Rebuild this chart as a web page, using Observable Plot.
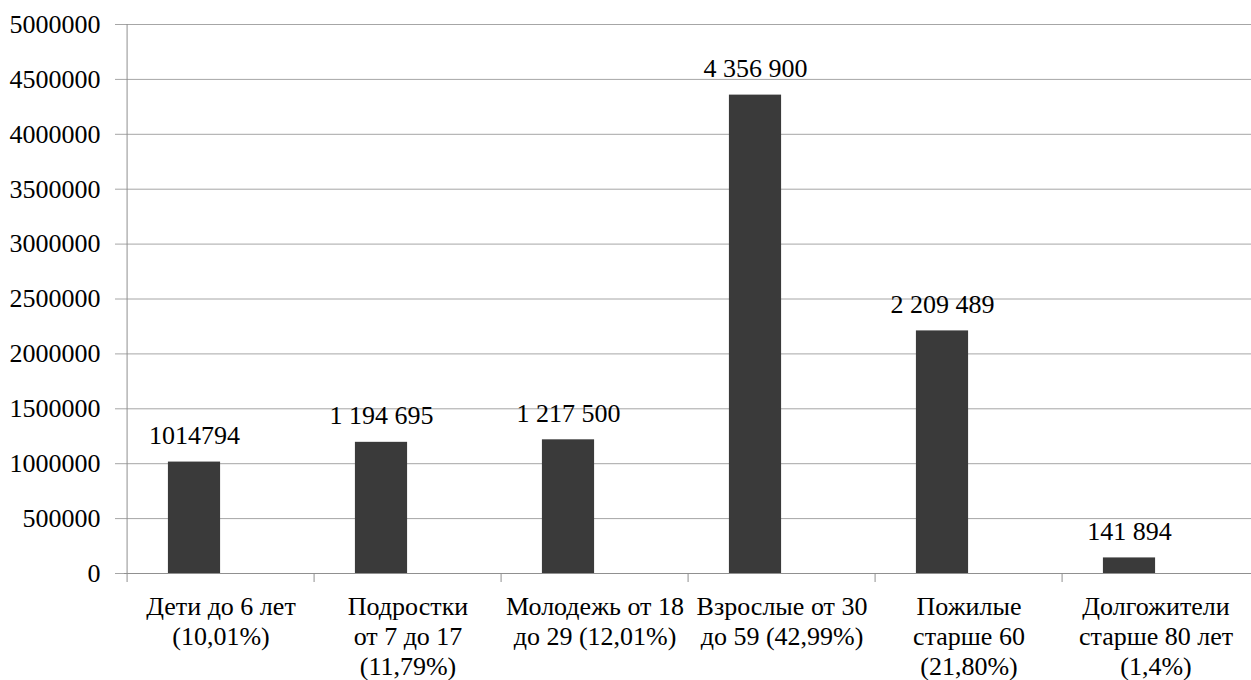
<!DOCTYPE html>
<html>
<head>
<meta charset="utf-8">
<script src="https://cdn.jsdelivr.net/npm/d3@7"></script>
<script src="https://cdn.jsdelivr.net/npm/@observablehq/plot@0.6"></script>
<style>
  html, body { margin: 0; padding: 0; background: #fff; }
  #chart svg { display: block; }
</style>
</head>
<body>
<div id="chart"></div>
<script>
const categories = [
  "Дети до 6 лет\n(10,01%)",
  "Подростки\nот 7 до 17\n(11,79%)",
  "Молодежь от 18\nдо 29 (12,01%)",
  "Взрослые от 30\nдо 59 (42,99%)",
  "Пожилые\nстарше 60\n(21,80%)",
  "Долгожители\nстарше 80 лет\n(1,4%)"
];
const values = [1014794, 1194695, 1217500, 4356900, 2209489, 141894];
const valueLabels = ["1014794", "1 194 695", "1 217 500", "4 356 900", "2 209 489", "141 894"];
const yTicks = [0, 500000, 1000000, 1500000, 2000000, 2500000, 3000000, 3500000, 4000000, 4500000, 5000000];

const data = categories.map((c, i) => ({category: c, value: values[i], label: valueLabels[i]}));

const W = 1251, H = 680, mL = 124, mR = 0, mT = 24, mB = 107;
const bw = (W - mL - mR) / categories.length;
const frameH = H - mT - mB;
const barW = 53;
const gridColor = "#a6a6a6";
const axisColor = "#909090";
const FONT = "'Liberation Serif', serif";

const chart = Plot.plot({
  width: W,
  height: H,
  marginLeft: mL,
  marginRight: mR,
  marginTop: mT,
  marginBottom: mB,
  style: "background: #fff; color: #000; font-family: 'Liberation Serif', serif;",
  x: {domain: categories, paddingInner: 0, paddingOuter: 0, axis: null, label: null},
  y: {domain: [0, 5000000], axis: null, label: null},
  marks: [
    Plot.gridY(yTicks, {stroke: gridColor, strokeOpacity: 1, strokeWidth: 1}),
    Plot.axisY(yTicks, {tickSize: 9, tickPadding: 15, tickFormat: d => String(d), stroke: gridColor, strokeOpacity: 1, fontSize: 26, fontFamily: FONT, label: null}),
    Plot.ruleY([0], {stroke: axisColor}),
    Plot.tickX(categories, {x: d => d, dx: -bw / 2, stroke: axisColor, insetTop: frameH, insetBottom: -9}),
    Plot.tickX([categories[0]], {x: d => d, dx: -bw / 2, stroke: axisColor}),
    Plot.axisX(categories, {tickSize: 0, tickPadding: 20, fontSize: 26, fontFamily: FONT, lineHeight: 1.15, tickFormat: d => d, label: null}),
    Plot.barY(data, {x: "category", y: "value", fill: "#3a3a3a", insetLeft: bw / 2 - barW, insetRight: bw / 2}),
    Plot.text(data, {x: "category", y: "value", text: "label", dx: -barW / 2, dy: -18, lineAnchor: "bottom", fontSize: 26, fontFamily: FONT, fill: "#000"})
  ]
});
chart.setAttribute("font-family", FONT);
document.getElementById("chart").append(chart);
</script>
</body>
</html>
